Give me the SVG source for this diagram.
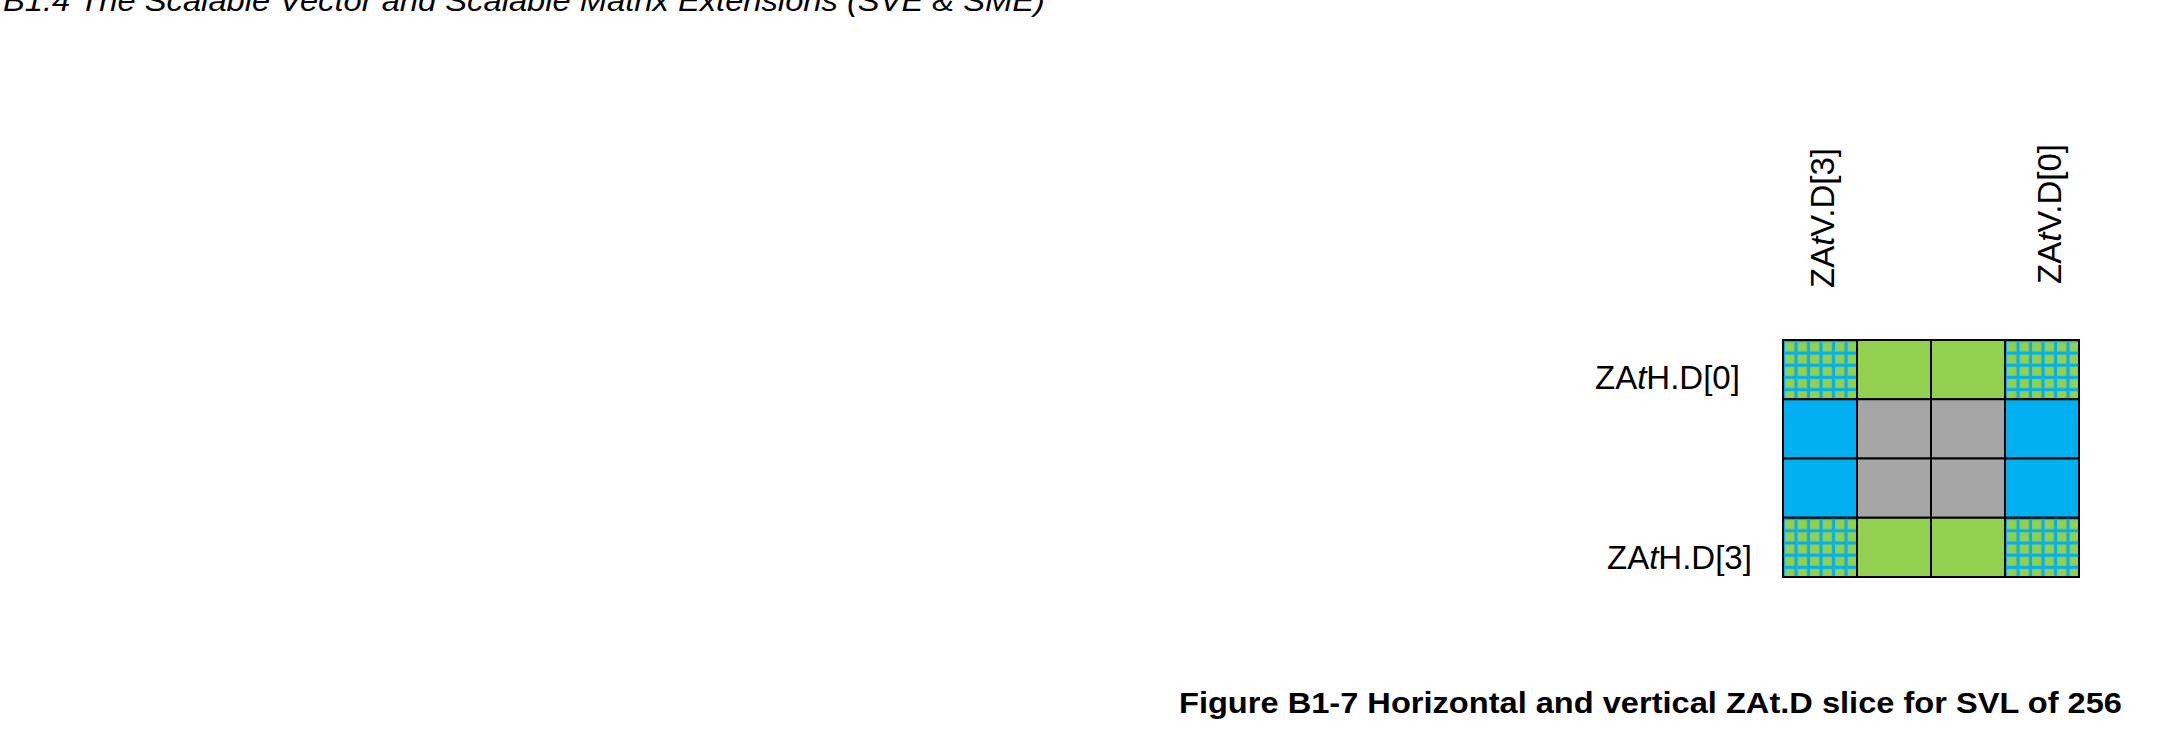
<svg xmlns="http://www.w3.org/2000/svg" width="2159" height="750" viewBox="0 0 2159 750">
<style>
.lbl{font-family:"Liberation Sans",Arial,sans-serif;font-size:33px;fill:#000}
.cap{font-family:"Liberation Sans",Arial,sans-serif;font-size:30px;font-weight:bold;fill:#000}
.hdr{font-family:"Liberation Sans",Arial,sans-serif;font-size:30px;font-style:italic;fill:#000}
.cell{stroke:#000;stroke-width:2}
.g{fill:#92D050}
.b{fill:#00B0F0}
.k{fill:#A6A6A6}
.h{fill:url(#hatch)}
</style>
<defs>
<pattern id="hatch" patternUnits="userSpaceOnUse" x="2" y="2.3" width="12.5" height="12.2">
<rect width="12.5" height="12.2" fill="#00B0F0"/>
<rect x="0" y="0" width="9.3" height="9" fill="#92D050" stroke="#86C45C" stroke-width="0.8"/>
</pattern>
</defs>
<rect width="2159" height="750" fill="#fff"/>
<text class="hdr" x="3" y="11" textLength="1042" lengthAdjust="spacingAndGlyphs">B1.4 The Scalable Vector and Scalable Matrix Extensions (SVE &amp; SME)</text>
<g id="grid">
<g id="row0">
<g transform="translate(1783,340)"><rect class="cell h" width="74" height="59.25"/></g>
<rect class="cell g" x="1857" y="340" width="74" height="59.25"/>
<rect class="cell g" x="1931" y="340" width="74" height="59.25"/>
<g transform="translate(2005,340)"><rect class="cell h" width="74" height="59.25"/></g>
</g>
<g id="row1">
<rect class="cell b" x="1783" y="399.25" width="74" height="59.25"/>
<rect class="cell k" x="1857" y="399.25" width="74" height="59.25"/>
<rect class="cell k" x="1931" y="399.25" width="74" height="59.25"/>
<rect class="cell b" x="2005" y="399.25" width="74" height="59.25"/>
</g>
<g id="row2">
<rect class="cell b" x="1783" y="458.5" width="74" height="59.25"/>
<rect class="cell k" x="1857" y="458.5" width="74" height="59.25"/>
<rect class="cell k" x="1931" y="458.5" width="74" height="59.25"/>
<rect class="cell b" x="2005" y="458.5" width="74" height="59.25"/>
</g>
<g id="row3">
<g transform="translate(1783,517.75)"><rect class="cell h" width="74" height="59.25"/></g>
<rect class="cell g" x="1857" y="517.75" width="74" height="59.25"/>
<rect class="cell g" x="1931" y="517.75" width="74" height="59.25"/>
<g transform="translate(2005,517.75)"><rect class="cell h" width="74" height="59.25"/></g>
</g>
</g>
<g id="labels">
<text class="lbl" x="1595" y="389">ZA<tspan font-style="italic">t</tspan>H.D[0]</text>
<text class="lbl" x="1607" y="569">ZA<tspan font-style="italic">t</tspan>H.D[3]</text>
<text class="lbl" transform="translate(1834,288) rotate(-90)">ZA<tspan font-style="italic">t</tspan>V.D[3]</text>
<text class="lbl" transform="translate(2061,284) rotate(-90)">ZA<tspan font-style="italic">t</tspan>V.D[0]</text>
</g>
<g id="connectors"/>
<text class="cap" x="1179" y="713" textLength="943" lengthAdjust="spacingAndGlyphs">Figure B1-7 Horizontal and vertical ZAt.D slice for SVL of 256</text>
</svg>
